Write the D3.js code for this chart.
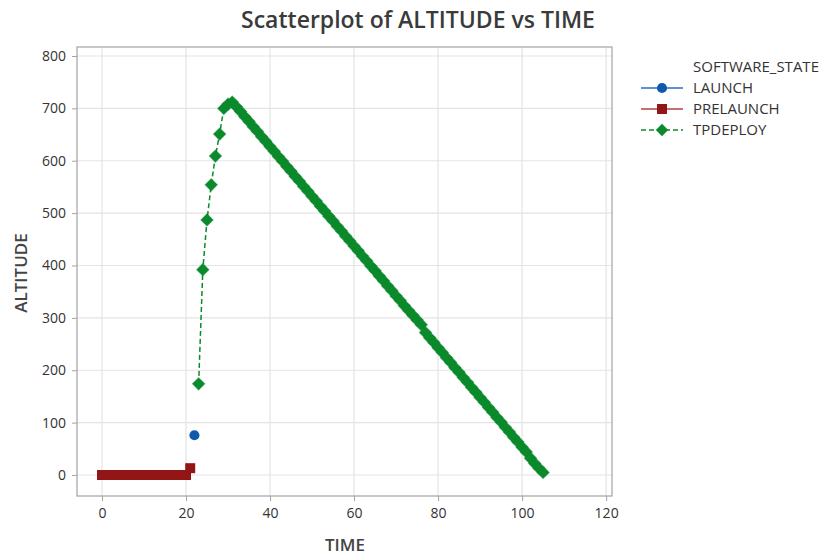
<!DOCTYPE html>
<html>
<head>
<meta charset="utf-8">
<script src="https://cdn.jsdelivr.net/npm/d3@7"></script>
<style>
  body { margin: 0; background: #fff; }
  svg text { font-family: "Open Sans", "Noto Sans", sans-serif; }
</style>
</head>
<body>
<div id="chart"></div>
<script>
// data
const prelaunchTime = [0, 1, 2, 3, 4, 5, 6, 7, 8, 9, 10, 11, 12, 13, 14, 15, 16, 17, 18, 19, 20, 21];
const prelaunchAlt  = [0, 0, 0, 0, 0, 0, 0, 0, 0, 0, 0, 0, 0, 0, 0, 0, 0, 0, 0, 0, 0, 13];

const launchTime = [22];
const launchAlt  = [76];

const tpdeployTime = [23, 24, 25, 26, 27, 28, 29, 30,
    31, 32, 33, 34, 35, 36, 37, 38, 39, 40, 41, 42, 43, 44, 45, 46, 47, 48, 49, 50,
    51, 52, 53, 54, 55, 56, 57, 58, 59, 60, 61, 62, 63, 64, 65, 66, 67, 68, 69, 70,
    71, 72, 73, 74, 75, 76, 77, 78, 79, 80, 81, 82, 83, 84, 85, 86, 87, 88, 89, 90,
    91, 92, 93, 94, 95, 96, 97, 98, 99, 100, 101, 102, 103, 104, 105];
const tpdeployAlt = [174, 392, 487, 554, 609, 651, 700, 708,
    712, 703, 694, 684, 675, 665, 656, 646, 637, 627, 618, 608, 599, 589, 580, 570, 561, 551, 542, 532,
    523, 513, 504, 494, 485, 475, 466, 456, 447, 437, 428, 418, 409, 399, 390, 380, 371, 361, 352, 342,
    333, 323, 314, 305, 296, 287, 272, 262, 253, 243, 234, 224, 215, 205, 196, 186, 177, 167, 158, 148,
    139, 129, 120, 110, 101, 91, 82, 72, 63, 53, 44, 32, 22, 13, 5];

const xTicks = [0, 20, 40, 60, 80, 100, 120];
const yTicks = [0, 100, 200, 300, 400, 500, 600, 700, 800];
const legendNames = ["LAUNCH", "PRELAUNCH", "TPDEPLOY"];

const W = 827, H = 557;
const plot = { left: 77, right: 612, top: 47, bottom: 496 };

const colorLaunch = "#0f5aac";
const colorPre = "#921616";
const colorTp = "#0b8a2b";

const svg = d3.select("#chart").append("svg")
    .attr("width", W)
    .attr("height", H);

const xScale = d3.scaleLinear().domain([-5.95, 121.4]).range([plot.left, plot.right]);
const yScale = d3.scaleLinear().domain([-40.1, 817.2]).range([plot.bottom, plot.top]);

// gridlines
svg.append("g").selectAll("line").data(xTicks).enter().append("line")
    .attr("x1", d => xScale(d)).attr("x2", d => xScale(d))
    .attr("y1", plot.top).attr("y2", plot.bottom)
    .attr("stroke", "#e4e4e4").attr("stroke-width", 1.2);
svg.append("g").selectAll("line").data(yTicks).enter().append("line")
    .attr("y1", d => yScale(d)).attr("y2", d => yScale(d))
    .attr("x1", plot.left).attr("x2", plot.right)
    .attr("stroke", "#e4e4e4").attr("stroke-width", 1.2);

// frame
svg.append("rect")
    .attr("x", plot.left).attr("y", plot.top)
    .attr("width", plot.right - plot.left).attr("height", plot.bottom - plot.top)
    .attr("fill", "none").attr("stroke", "#a3a3a3").attr("stroke-width", 1.2);

// axes
const xAxis = svg.append("g")
    .attr("transform", `translate(0,${plot.bottom})`)
    .call(d3.axisBottom(xScale).tickValues(xTicks).tickSize(5).tickPadding(7));
const yAxis = svg.append("g")
    .attr("transform", `translate(${plot.left},0)`)
    .call(d3.axisLeft(yScale).tickValues(yTicks).tickSize(5).tickPadding(6));
[xAxis, yAxis].forEach(a => {
    a.select(".domain").remove();
    a.selectAll(".tick line").attr("stroke", "#a3a3a3");
    a.selectAll(".tick text").attr("fill", "#333").style("font-size", "14px");
});

// titles
svg.append("text")
    .attr("x", 418).attr("y", 28)
    .attr("text-anchor", "middle")
    .style("font-size", "23px").style("font-weight", 600)
    .attr("fill", "#3a3a3a")
    .text("Scatterplot of ALTITUDE vs TIME");
svg.append("text")
    .attr("x", 345).attr("y", 551)
    .attr("text-anchor", "middle")
    .style("font-size", "17px").style("font-weight", 600)
    .attr("fill", "#444")
    .text("TIME");
svg.append("text")
    .attr("transform", "translate(27,273) rotate(-90)")
    .attr("text-anchor", "middle")
    .style("font-size", "17px").style("font-weight", 600)
    .attr("fill", "#444")
    .text("ALTITUDE");

const pre = prelaunchTime.map((t, i) => [t, prelaunchAlt[i]]);
const launch = launchTime.map((t, i) => [t, launchAlt[i]]);
const tp = tpdeployTime.map((t, i) => [t, tpdeployAlt[i]]);

// dashed connect line for TPDEPLOY
const line = d3.line().x(d => xScale(d[0])).y(d => yScale(d[1]));
svg.append("path")
    .attr("d", line(tp))
    .attr("fill", "none")
    .attr("stroke", colorTp)
    .attr("stroke-width", 1.5)
    .attr("stroke-dasharray", "5,3");

const squareSym = d3.symbol().type(d3.symbolSquare).size(100);
const diamondSym = d3.symbol().type(d3.symbolSquare).size(76);
const circleSym = d3.symbol().type(d3.symbolCircle).size(80);

svg.append("g").selectAll("path").data(pre).enter().append("path")
    .attr("d", squareSym)
    .attr("transform", d => `translate(${xScale(d[0])},${yScale(d[1])})`)
    .attr("fill", colorPre);

svg.append("g").selectAll("path").data(tp).enter().append("path")
    .attr("d", diamondSym)
    .attr("transform", d => `translate(${xScale(d[0])},${yScale(d[1])}) rotate(45)`)
    .attr("fill", colorTp)
    .attr("stroke", colorTp).attr("stroke-opacity", 0.5).attr("stroke-width", 1);

svg.append("g").selectAll("path").data(launch).enter().append("path")
    .attr("d", circleSym)
    .attr("transform", d => `translate(${xScale(d[0])},${yScale(d[1])})`)
    .attr("fill", colorLaunch);

// legend
const legend = svg.append("g");
legend.append("text")
    .attr("x", 693).attr("y", 72)
    .style("font-size", "15px").attr("fill", "#333")
    .text("SOFTWARE_STATE");

const legendStyle = [
    { color: colorLaunch, lineColor: "#2a6cc0", dash: null, sym: circleSym, rot: 0 },
    { color: colorPre, lineColor: "#b04040", dash: null, sym: squareSym, rot: 0 },
    { color: colorTp, lineColor: colorTp, dash: "5,3", sym: diamondSym, rot: 45 }
];
legendNames.forEach((name, i) => {
    const y = 88 + i * 21;
    const s = legendStyle[i];
    legend.append("line")
        .attr("x1", 641).attr("x2", 683).attr("y1", y).attr("y2", y)
        .attr("stroke", s.lineColor).attr("stroke-width", 1.5)
        .attr("stroke-dasharray", s.dash);
    legend.append("path")
        .attr("d", s.sym)
        .attr("transform", `translate(662,${y}) rotate(${s.rot})`)
        .attr("fill", s.color);
    legend.append("text")
        .attr("x", 693).attr("y", y + 5)
        .style("font-size", "15px").attr("fill", "#333")
        .text(name);
});
</script>
</body>
</html>
